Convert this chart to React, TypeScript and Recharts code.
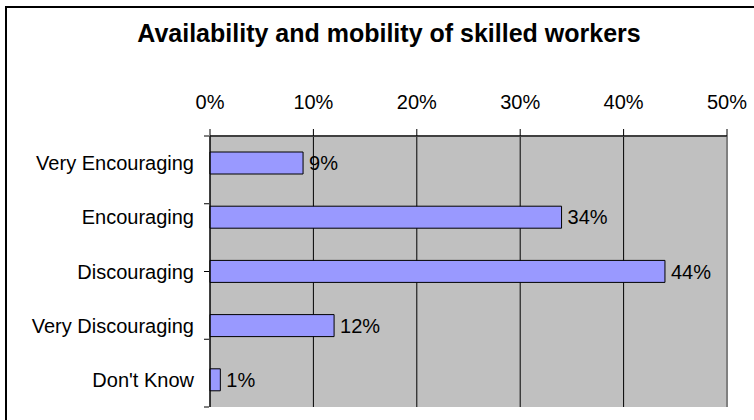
import { Bar, BarChart, CartesianGrid, LabelList, ReferenceLine, XAxis, YAxis } from "recharts";

const categories = ["Very Encouraging", "Encouraging", "Discouraging", "Very Discouraging", "Don't Know"];
const shares = [9, 34, 44, 12, 1];
const xTicks = [0, 10, 20, 30, 40, 50];
const boundaryTicks = [0, 1, 2, 3, 4, 5];

const data = categories.map((name, i) => ({ name, value: shares[i] }));

const font = "'Liberation Sans', Arial, sans-serif";
const pct = (v: number) => `${v}%`;

// single-line category label (the narrow axis width would otherwise wrap it)
const CategoryTick = (props: any) => {
  const { x, y, payload } = props;
  return (
    <text x={x} y={y} dy={7} textAnchor="end" fontSize={20} fill="#000" fontFamily={font}>
      {payload.value}
    </text>
  );
};

export default function App() {
  return (
    <div
      style={{
        position: "fixed",
        left: 0,
        top: 0,
        width: 754,
        height: 420,
        background: "#fff",
        overflow: "hidden",
        fontFamily: font,
      }}
    >
      <div
        style={{
          position: "absolute",
          left: 5,
          top: 6,
          width: 800,
          height: 500,
          border: "2px solid #000",
        }}
      />
      <div
        style={{
          position: "absolute",
          left: 0,
          top: 21,
          width: 778,
          textAlign: "center",
          fontSize: 25,
          lineHeight: "25px",
          fontWeight: "bold",
          color: "#000",
        }}
      >
        Availability and mobility of skilled workers
      </div>
      <div style={{ position: "absolute", left: 0, top: 0 }}>
        <BarChart
          width={754}
          height={420}
          data={data}
          layout="vertical"
          barSize={22}
          margin={{ top: 86, right: 27, left: 208, bottom: 13 }}
        >
          <CartesianGrid
            horizontal={false}
            stroke="#000"
            strokeOpacity={1}
            fill="#C0C0C0"
            fillOpacity={1}
          />
          <XAxis
            type="number"
            orientation="top"
            domain={[0, 50]}
            ticks={xTicks}
            tickFormatter={pct}
            height={50}
            tickSize={7}
            tickMargin={20}
            stroke="#000"
            tick={{ fontSize: 20, fill: "#000", fontFamily: font }}
          />
          <YAxis
            type="category"
            dataKey="name"
            width={1}
            tickSize={0}
            tickMargin={16}
            stroke="#000"
            tick={<CategoryTick />}
          />
          <YAxis
            yAxisId="edges"
            type="number"
            domain={[0, 5]}
            ticks={boundaryTicks}
            width={1}
            tickSize={5}
            axisLine={false}
            tickLine={{ stroke: "#000" }}
            tick={{ fontSize: 1, fill: "none" }}
          />
          <ReferenceLine x={50} stroke="#808080" strokeWidth={2} />
          <ReferenceLine yAxisId="edges" y={0} stroke="#808080" strokeWidth={2} />
          <Bar dataKey="value" fill="#9999FF" stroke="#000" strokeWidth={1} isAnimationActive={false}>
            <LabelList
              dataKey="value"
              position="right"
              offset={6}
              formatter={(v: number) => pct(v)}
              style={{ fontSize: 20, fill: "#000", fontFamily: font }}
            />
          </Bar>
        </BarChart>
      </div>
    </div>
  );
}
